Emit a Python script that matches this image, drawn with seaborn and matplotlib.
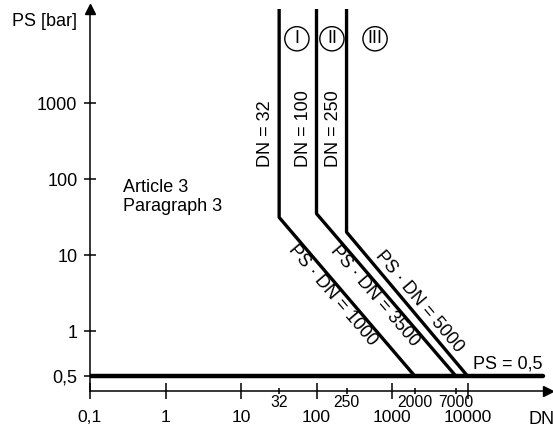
import numpy as np
import pandas as pd
import matplotlib
matplotlib.use("Agg")
import matplotlib.pyplot as plt
import seaborn as sns
from matplotlib.ticker import NullLocator

# category boundaries
DN_CLASS = [32, 100, 250]          # vertical limits
PS_KINK = [31.25, 35, 20]          # PS where the vertical limit meets PS*DN
DN_END = [2000, 7000, 10000]       # DN where PS*DN meets PS = 0,5
PSDN = [1000, 3500, 5000]
CLASS_NAMES = ["I", "II", "III"]
PS_MIN = 0.5
PS_TOP = 1e5
DN_SPAN = [0.1, 1e5]

X_MAJOR = [0.1, 1, 10, 100, 1000, 10000]
X_MAJOR_LABELS = ["0,1", "1", "10", "100", "1000", "10000"]
X_MINOR = [32, 250, 2000, 7000]
X_MINOR_LABELS = ["32", "250", "2000", "7000"]
Y_TICKS = [0.5, 1, 10, 100, 1000]
Y_TICK_LABELS = ["0,5", "1", "10", "100", "1000"]

# schematic PS axis: log, but the 0,5 level is drawn lower than true log
Y_LOG_KNOTS = [-1, np.log10(0.5), 0, 6]
Y_POS_KNOTS = [-89.5, 15, 60, 516]


def y_fwd(v):
    return np.interp(np.log10(np.maximum(v, 1e-12)), Y_LOG_KNOTS, Y_POS_KNOTS)


def y_inv(p):
    return 10 ** np.interp(p, Y_POS_KNOTS, Y_LOG_KNOTS)


sns.set_style("white")
plt.rcParams["font.family"] = ["Liberation Sans", "DejaVu Sans"]
plt.rcParams.update({"text.color": "black", "axes.edgecolor": "black",
                     "xtick.color": "black", "ytick.color": "black"})

fig = plt.figure(figsize=(5.53, 4.3), dpi=100)
ax = fig.add_axes([90 / 553, 39 / 430, 458 / 553, 382 / 430])
ax.set_xscale("log")
ax.set_yscale("function", functions=(y_fwd, y_inv))
ax.set_xlim(0.1, 10 ** 5.066)
ax.set_ylim(y_inv(0), y_inv(382))

# class boundary lines
rows = []
for i in range(len(DN_CLASS)):
    rows.append((i, DN_CLASS[i], PS_TOP))
    rows.append((i, DN_CLASS[i], PS_KINK[i]))
    rows.append((i, DN_END[i], PS_MIN))
df = pd.DataFrame(rows, columns=["curve", "DN", "PS"])
sns.lineplot(data=df, x="DN", y="PS", units="curve", estimator=None, sort=False,
             color="black", lw=2.4, legend=False, ax=ax)
sns.lineplot(x=DN_SPAN, y=[PS_MIN, PS_MIN], estimator=None, color="black",
             lw=3.2, ax=ax)

ax.set_xlabel("")
ax.set_ylabel("")

# ticks
ax.set_xticks(X_MAJOR, X_MAJOR_LABELS)
ax.set_xticks(X_MINOR, X_MINOR_LABELS, minor=True)
ax.set_yticks(Y_TICKS, Y_TICK_LABELS)
ax.yaxis.set_minor_locator(NullLocator())
ax.tick_params(axis="x", which="major", direction="inout", length=11, width=1.1,
               pad=8.2, labelsize=12.6, bottom=True)
ax.tick_params(axis="x", which="minor", direction="inout", length=5, width=1.1,
               pad=0.3, labelsize=11.3, bottom=True)
ax.tick_params(axis="y", which="major", direction="inout", length=9, width=1.1,
               pad=4.5, labelsize=13, left=True)

for s in ["top", "right"]:
    ax.spines[s].set_visible(False)
for s in ["left", "bottom"]:
    ax.spines[s].set_linewidth(1.1)
    ax.spines[s].set_color("black")

# axis arrows
ax.plot(1, 0, ">", color="black", ms=7, transform=ax.transAxes, clip_on=False)
ax.plot(0, 1, "^", color="black", ms=7, transform=ax.transAxes, clip_on=False)

fig.text(12 / 553, 1 - 21 / 430, "PS [bar]", fontsize=13, ha="left", va="center")
fig.text(528 / 553, 1 - 419 / 430, "DN", fontsize=13, ha="left", va="center")

ax.text(0.27, 58, "Article 3\nParagraph 3", fontsize=13, ha="left", va="center",
        linespacing=1.15)
ax.text(1.18e4, 0.6, "PS = 0,5", fontsize=13, ha="left", va="center")

# vertical labels
for dn in DN_CLASS:
    ax.annotate(f"DN = {dn}", xy=(dn, 144), xytext=(-9.5, 0),
                textcoords="offset points", rotation=90, ha="center",
                va="bottom", fontsize=13)

# circled class numbers
for name, x in zip(CLASS_NAMES, [55, 160, 596]):
    ax.text(x, 7000, name, fontsize=13, ha="center", va="center",
            bbox=dict(boxstyle="circle,pad=0.2", fc="none", ec="black", lw=1))

# diagonal labels along PS*DN lines
label_t = [0.45, 0.47, 0.53]
label_off = [10, 9, -11]
inv = ax.transData.inverted()
for i in range(len(PSDN)):
    p0 = ax.transData.transform((DN_CLASS[i], PS_KINK[i]))
    p1 = ax.transData.transform((DN_END[i], PS_MIN))
    d = p1 - p0
    u = d / np.hypot(*d)
    n = np.array([u[1], -u[0]])
    c = p0 + label_t[i] * d + label_off[i] * n
    xd, yd = inv.transform(c)
    ang = np.degrees(np.arctan2(d[1], d[0]))
    ax.text(xd, yd, f"PS · DN = {PSDN[i]}", fontsize=13, rotation=ang,
            rotation_mode="anchor", ha="center", va="center")

fig.savefig("out.png", dpi=100)
